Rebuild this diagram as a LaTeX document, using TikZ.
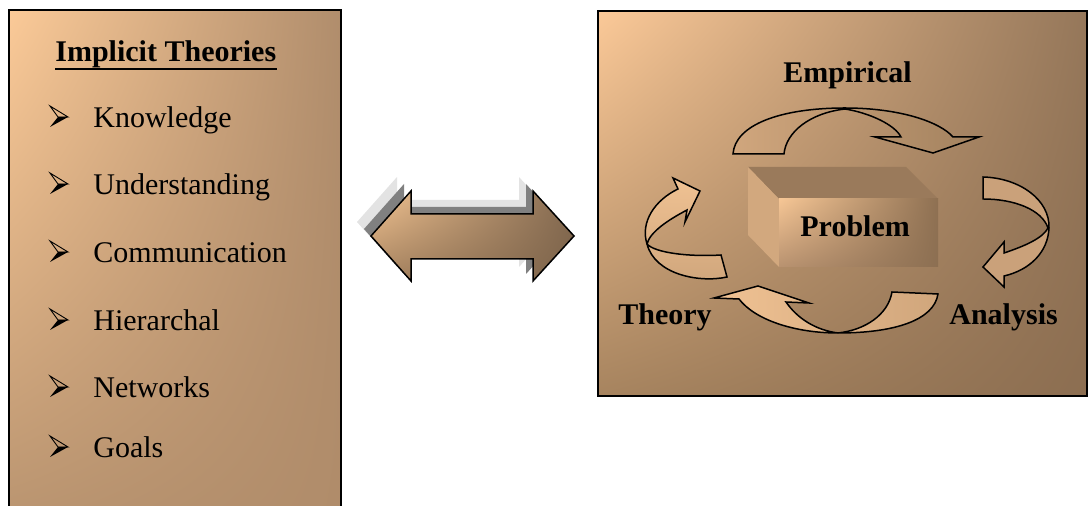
\documentclass[tikz,border=0pt]{standalone}
\usepackage{fontspec}
\usetikzlibrary{shadings}
\setmainfont{Liberation Serif}
\definecolor{lpUL}{HTML}{FBCA98}
\definecolor{lpUR}{HTML}{B08D6C}
\definecolor{lpLL}{HTML}{B8936F}
\definecolor{lpLR}{HTML}{B08C6A}
\definecolor{rpUL}{HTML}{FBC998}
\definecolor{rpUR}{HTML}{95775A}
\definecolor{rpLL}{HTML}{A7845F}
\definecolor{rpLR}{HTML}{8C6E51}
\definecolor{daUL}{HTML}{F4C593}
\definecolor{daUR}{HTML}{836950}
\definecolor{daLL}{HTML}{A5825F}
\definecolor{daLR}{HTML}{7D644B}
\definecolor{shLight}{HTML}{E3E3E3}
\definecolor{shDark}{HTML}{808080}
\definecolor{boxTop}{HTML}{9A7A5B}
\definecolor{boxLeft}{HTML}{D2A87E}
\definecolor{bfUL}{HTML}{F6C695}
\definecolor{bfUR}{HTML}{8E7052}
\definecolor{bfLL}{HTML}{B89270}
\definecolor{bfLR}{HTML}{8C6F52}
\definecolor{aA}{HTML}{D0A67D}
\definecolor{aB}{HTML}{A3825F}
\definecolor{aC}{HTML}{CAA17A}
\definecolor{aD}{HTML}{F0C293}
\definecolor{aE}{HTML}{D0A67C}
\begin{document}
\begin{tikzpicture}[x=0.5pt,y=-0.5pt,
  lbl/.style={inner sep=0pt,anchor=base west,font=\fontsize{15}{18}\selectfont},
  blbl/.style={inner sep=0pt,anchor=base west,font=\fontsize{15}{18}\selectfont\bfseries},
  outl/.style={draw=black,line width=0.75pt,line join=miter},
  bul/.pic={
    \draw[line width=0.45pt,line join=miter] (0,-22) -- (18,-11) -- (8,-11) -- cycle;
    \fill[black] (8,-11) -- (18,-11) -- (0,-1) -- cycle;
  }
]
\useasboundingbox (0,0) rectangle (1088,506);
\begin{scope}
\clip (0,0) rectangle (1088,506);
% left panel
\path[upper left=lpUL, upper right=lpUR, lower left=lpLL, lower right=lpLR] (9,10) rectangle (341,530);
\draw[line width=0.75pt] (9,530) -- (9,10) -- (341,10) -- (341,530);
% right panel
\path[upper left=rpUL, upper right=rpUR, lower left=rpLL, lower right=rpLR] (598,11) rectangle (1087,396);
\draw[line width=0.75pt] (598,11) rectangle (1087,396);
\end{scope}

% left panel texts
\node[blbl] (title) at (55,62) {Implicit Theories};
\draw[line width=1pt] ([yshift=-3.3pt]title.base west) -- ([yshift=-3.3pt]title.base east);
\node[lbl] (k) at (93,128) {Knowledge};
\node[lbl] (u) at (93,195) {Understanding};
\node[lbl] (c) at (93,263) {Communication};
\node[lbl] (h) at (93,331) {Hierarchal};
\node[lbl] (n) at (93,398) {Networks};
\node[lbl] (g) at (93,458) {Goals};
\foreach \b in {128,195,263,331,398,458} { \pic at (50,\b) {bul}; }

% double arrow with shadows
\def\dblarrow{(371,236) -- (411,191) -- (411,214) -- (533,214) -- (533,191) -- (574,236) -- (533,281) -- (533,259) -- (411,259) -- (411,281) -- cycle}
\fill[shLight, shift={(-14,-14)}] \dblarrow;
\fill[shDark, shift={(-7,-7)}] \dblarrow;
\path[outl, upper left=daUL, upper right=daUR, lower left=daLL, lower right=daLR] \dblarrow;

% problem box
\fill[boxTop] (748,167) -- (906,167) -- (938,199) -- (779,199) -- cycle;
\fill[boxLeft] (748,167) -- (779,199) -- (779,267) -- (748,235) -- cycle;
\path[upper left=bfUL, upper right=bfUR, lower left=bfLL, lower right=bfLR] (779,199) rectangle (938,267);

% curved arrows
% top (Empirical)
\path[outl, left color=aA, right color=aB]
  (733,154) -- (784,154) .. controls (786,132) and (810,113) .. (845,109)
  .. controls (870,113) and (895,125) .. (901,137) -- (875,137) -- (933,153) -- (979,137) -- (953,137)
  .. controls (940,122) and (900,108) .. (845,108)
  .. controls (780,108) and (735,125) .. cycle;
% right (Analysis side)
\path[outl, fill=aC]
  (983,177) .. controls (1020,178) and (1050,200) .. (1049,228)
  .. controls (1048,252) and (1030,270) .. (1004,276) -- (1004,287) -- (983,267) -- (1004,242) -- (1004,253)
  .. controls (1025,246) and (1043,238) .. (1048,228)
  .. controls (1042,210) and (1015,199) .. (983,199) -- cycle;
% bottom
\path[outl, left color=aD, right color=aE]
  (892,292) -- (938,294) .. controls (934,320) and (895,333) .. (838,333)
  .. controls (795,333) and (755,320) .. (739,299) -- (714,298) -- (758,286) -- (809,303) -- (786,302)
  .. controls (797,318) and (815,330) .. (838,333)
  .. controls (865,330) and (888,315) .. cycle;
% left (Theory side)
\path[outl, top color=aD, bottom color=aE]
  (721,255) -- (727,277) .. controls (700,283) and (655,275) .. (647,244)
  .. controls (640,222) and (655,200) .. (678,189) -- (673,178) -- (700,191) -- (685,222) -- (687,210)
  .. controls (668,220) and (650,232) .. (647,244)
  .. controls (655,253) and (690,257) .. cycle;

% right panel labels
\node[blbl] (emp) at (783,83) {Empirical};
\node[blbl] (prob) at (800,237) {Problem};
\node[blbl] (theo) at (618,325) {Theory};
\node[blbl] (anal) at (949,325) {Analysis};
\end{tikzpicture}
\end{document}
